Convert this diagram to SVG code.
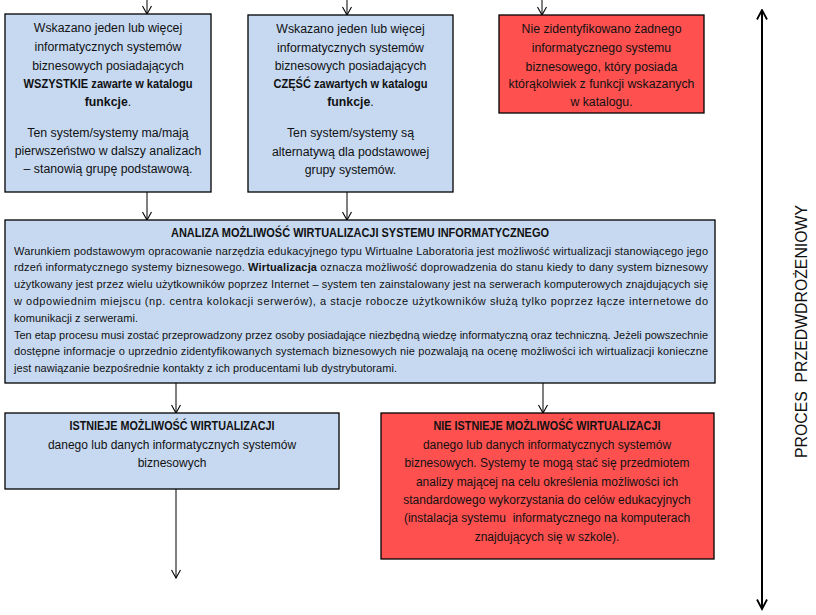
<svg xmlns="http://www.w3.org/2000/svg" width="816" height="615" viewBox="0 0 816 615">
<style>
.blue{fill:#C6D9F1;stroke:#000;stroke-width:1.3}
.red{fill:#FF5050;stroke:#000;stroke-width:1.3}
text{font-family:"Liberation Sans",Arial,sans-serif;fill:#111}
.t{font-size:12.3px;text-anchor:middle}
.m{font-size:11px}
.c{font-size:12px;text-anchor:middle}
.b{font-weight:bold}
.con{stroke:#000;stroke-width:1;fill:none}
.big{stroke:#000;stroke-width:2;fill:none}
</style>
<defs>
<marker id="ah" viewBox="0 0 10 10" refX="9" refY="5" markerWidth="10" markerHeight="10" markerUnits="userSpaceOnUse" orient="auto">
<path d="M1,0.5 L9,5 L1,9.5" fill="none" stroke="#000" stroke-width="1.1"/>
</marker>
<marker id="ah2" viewBox="0 0 12 12" refX="10.5" refY="6" markerWidth="12" markerHeight="12" markerUnits="userSpaceOnUse" orient="auto-start-reverse">
<path d="M1,1 L10.5,6 L1,11" fill="none" stroke="#000" stroke-width="1.8"/>
</marker>
</defs>

<g id="connectors">
<line class="con" x1="147" y1="0" x2="147" y2="14" marker-end="url(#ah)"/>
<line class="con" x1="347" y1="0" x2="347" y2="15" marker-end="url(#ah)"/>
<line class="con" x1="542" y1="0" x2="542" y2="15" marker-end="url(#ah)"/>
<line class="con" x1="147" y1="192" x2="147" y2="220" marker-end="url(#ah)"/>
<line class="con" x1="347" y1="192" x2="347" y2="220" marker-end="url(#ah)"/>
<line class="con" x1="176" y1="383" x2="176" y2="413" marker-end="url(#ah)"/>
<line class="con" x1="543" y1="383" x2="543" y2="413" marker-end="url(#ah)"/>
<line class="con" x1="176" y1="489" x2="176" y2="578" marker-end="url(#ah)"/>
<line class="big" x1="762" y1="10" x2="762" y2="609" marker-start="url(#ah2)" marker-end="url(#ah2)"/>
</g>

<g id="box1">
<rect class="blue" x="5" y="14" width="206" height="178"/>
<text class="t" x="108" y="32">Wskazano jeden lub więcej</text>
<text class="t" x="108" y="51">informatycznych systemów</text>
<text class="t" x="108" y="70">biznesowych posiadających</text>
<text class="t b" x="108" y="88" textLength="169" lengthAdjust="spacingAndGlyphs">WSZYSTKIE zawarte w katalogu</text>
<text class="t" x="108" y="106"><tspan class="b">funkcje</tspan>.</text>
<text class="t" x="108" y="137">Ten system/systemy ma/mają</text>
<text class="t" x="108" y="155">pierwszeństwo w dalszy analizach</text>
<text class="t" x="108" y="173">– stanowią grupę podstawową.</text>
</g>

<g id="box2">
<rect class="blue" x="248" y="15" width="205" height="177"/>
<text class="t" x="350.5" y="33">Wskazano jeden lub więcej</text>
<text class="t" x="350.5" y="52">informatycznych systemów</text>
<text class="t" x="350.5" y="70">biznesowych posiadających</text>
<text class="t b" x="350.5" y="88" textLength="154" lengthAdjust="spacingAndGlyphs">CZĘŚĆ zawartych w katalogu</text>
<text class="t" x="350.5" y="106"><tspan class="b">funkcje</tspan>.</text>
<text class="t" x="350.5" y="137">Ten system/systemy są</text>
<text class="t" x="350.5" y="156">alternatywą dla podstawowej</text>
<text class="t" x="350.5" y="174">grupy systemów.</text>
</g>

<g id="box3">
<rect class="red" x="499" y="15" width="205" height="98"/>
<text class="t" x="601.5" y="33">Nie zidentyfikowano żadnego</text>
<text class="t" x="601.5" y="52">informatycznego systemu</text>
<text class="t" x="601.5" y="71">biznesowego, który posiada</text>
<text class="t" x="601.5" y="88">którąkolwiek z funkcji wskazanych</text>
<text class="t" x="601.5" y="106">w katalogu.</text>
</g>

<g id="analiza">
<rect class="blue" x="5" y="220" width="710" height="163"/>
<text class="b" x="360" y="237" font-size="12" text-anchor="middle" textLength="378" lengthAdjust="spacingAndGlyphs">ANALIZA MOŻLIWOŚĆ WIRTUALIZACJI SYSTEMU INFORMATYCZNEGO</text>
<text class="m" x="14" y="254.5" textLength="694" lengthAdjust="spacing">Warunkiem podstawowym opracowanie narzędzia edukacyjnego typu Wirtualne Laboratoria jest możliwość wirtualizacji stanowiącego jego</text>
<text class="m" x="14" y="271.3" textLength="694" lengthAdjust="spacing">rdzeń informatycznego systemy biznesowego. <tspan class="b">Wirtualizacja</tspan> oznacza możliwość doprowadzenia do stanu kiedy to dany system biznesowy</text>
<text class="m" x="14" y="288.1" textLength="694" lengthAdjust="spacing">użytkowany jest przez wielu użytkowników poprzez Internet – system ten zainstalowany jest na serwerach komputerowych znajdujących się</text>
<text class="m" x="14" y="304.9" textLength="694" lengthAdjust="spacing">w odpowiednim miejscu (np. centra kolokacji serwerów), a stacje robocze użytkowników służą tylko poprzez łącze internetowe do</text>
<text class="m" x="14" y="321.7" textLength="124" lengthAdjust="spacing">komunikacji z serwerami.</text>
<text class="m" x="14" y="338.5" textLength="694" lengthAdjust="spacing">Ten etap procesu musi zostać przeprowadzony przez osoby posiadające niezbędną wiedzę informatyczną oraz techniczną. Jeżeli powszechnie</text>
<text class="m" x="14" y="355.3" textLength="694" lengthAdjust="spacing">dostępne informacje o uprzednio zidentyfikowanych systemach biznesowych nie pozwalają na ocenę możliwości ich wirtualizacji konieczne</text>
<text class="m" x="14" y="372.1" textLength="383" lengthAdjust="spacing">jest nawiązanie bezpośrednie kontakty z ich producentami lub dystrybutorami.</text>
</g>

<g id="istnieje">
<rect class="blue" x="5" y="413" width="334" height="76"/>
<text class="c b" x="172" y="430" textLength="205" lengthAdjust="spacingAndGlyphs">ISTNIEJE MOŻLIWOŚĆ WIRTUALIZACJI</text>
<text class="c" x="172" y="449">danego lub danych informatycznych systemów</text>
<text class="c" x="172" y="467">biznesowych</text>
</g>

<g id="nie-istnieje">
<rect class="red" x="381" y="413" width="333" height="146"/>
<text class="c b" x="547" y="430" textLength="227" lengthAdjust="spacingAndGlyphs">NIE ISTNIEJE MOŻLIWOŚĆ WIRTUALIZACJI</text>
<text class="c" x="547" y="449">danego lub danych informatycznych systemów</text>
<text class="c" x="547" y="467">biznesowych. Systemy te mogą stać się przedmiotem</text>
<text class="c" x="547" y="486">analizy mającej na celu określenia możliwości ich</text>
<text class="c" x="547" y="504">standardowego wykorzystania do celów edukacyjnych</text>
<text class="c" x="547" y="522" xml:space="preserve">(instalacja systemu  informatycznego na komputerach</text>
<text class="c" x="547" y="541">znajdujących się w szkole).</text>
</g>

<g id="proces">
<text x="0" y="0" transform="translate(807,331.5) rotate(-90)" font-size="16" text-anchor="middle" textLength="253" lengthAdjust="spacingAndGlyphs" xml:space="preserve">PROCES  PRZEDWDROŻENIOWY</text>
</g>
</svg>
